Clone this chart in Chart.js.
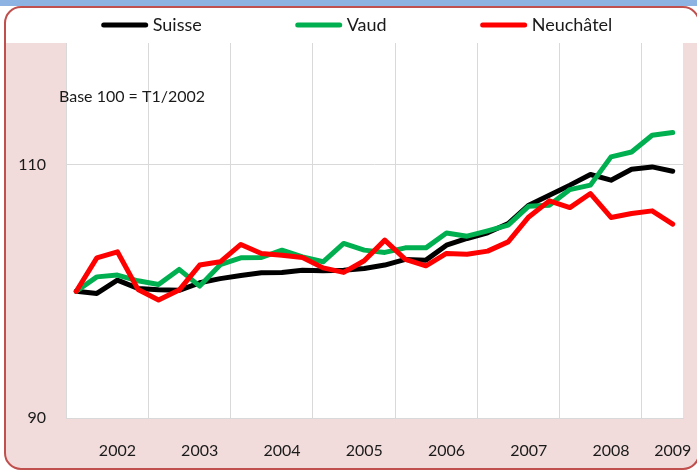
<!DOCTYPE html>
<html>
<head>
<meta charset="utf-8">
<script src="https://cdn.jsdelivr.net/npm/chart.js@4.4.1/dist/chart.umd.min.js"></script>
<style>
  html, body { margin: 0; padding: 0; background: #fff; }
  #wrap { position: relative; width: 697px; height: 470px; }
</style>
</head>
<body>
<div id="wrap"><canvas id="indexChart" width="697" height="470"></canvas></div>
<script>
// quarters T1/2002 .. T2/2009
const quarters = [
  'T1/2002', 'T2/2002', 'T3/2002', 'T4/2002',
  'T1/2003', 'T2/2003', 'T3/2003', 'T4/2003',
  'T1/2004', 'T2/2004', 'T3/2004', 'T4/2004',
  'T1/2005', 'T2/2005', 'T3/2005', 'T4/2005',
  'T1/2006', 'T2/2006', 'T3/2006', 'T4/2006',
  'T1/2007', 'T2/2007', 'T3/2007', 'T4/2007',
  'T1/2008', 'T2/2008', 'T3/2008', 'T4/2008',
  'T1/2009', 'T2/2009'
];

const suisse = [
  100, 99.83, 100.88, 100.23, 100.12, 100.08, 100.67, 101.0,
  101.25, 101.46, 101.49, 101.67, 101.62, 101.67, 101.8, 102.07,
  102.52, 102.46, 103.64, 104.17, 104.62, 105.35, 106.8, 107.59,
  108.38, 109.22, 108.77, 109.64, 109.82, 109.48
];
const vaud = [
  100, 101.14, 101.28, 100.83, 100.54, 101.73, 100.41, 102.1,
  102.64, 102.67, 103.25, 102.72, 102.33, 103.78, 103.25, 103.07,
  103.43, 103.43, 104.6, 104.35, 104.77, 105.22, 106.72, 106.8,
  108.03, 108.38, 110.61, 111.0, 112.32, 112.53
];
const neuchatel = [
  100, 102.64, 103.12, 100.15, 99.31, 100.1, 102.07, 102.33,
  103.7, 102.99, 102.85, 102.67, 101.85, 101.49, 102.41, 104.04,
  102.52, 102.01, 102.99, 102.93, 103.17, 103.9, 105.87, 107.14,
  106.61, 107.72, 105.83, 106.14, 106.35, 105.3
];

// year labels shown under the x axis (by category index)
const yearTicks = {2: '2002', 6: '2003', 10: '2004', 14: '2005', 18: '2006', 22: '2007', 26: '2008', 29: '2009'};
const yTicks = [90, 110];
const noteText = 'Base 100 = T1/2002';

const FONT = 'Lato';
const PINK = '#f2dcdb';
const GRID = '#d9d9d9';

function roundRect(ctx, x, y, w, h, r) {
  ctx.beginPath();
  ctx.moveTo(x + r, y);
  ctx.lineTo(x + w - r, y);
  ctx.arcTo(x + w, y, x + w, y + r, r);
  ctx.lineTo(x + w, y + h - r);
  ctx.arcTo(x + w, y + h, x + w - r, y + h, r);
  ctx.lineTo(x + r, y + h);
  ctx.arcTo(x, y + h, x, y + h - r, r);
  ctx.lineTo(x, y + r);
  ctx.arcTo(x, y, x + r, y, r);
  ctx.closePath();
}

// card background, white top band and white plot area
const background = {
  id: 'background',
  beforeDraw(chart) {
    const { ctx, chartArea } = chart;
    ctx.save();
    ctx.fillStyle = '#fff';
    ctx.fillRect(0, 0, chart.width, chart.height);
    ctx.fillStyle = '#8db3e2';
    ctx.fillRect(0, 0, chart.width, 6);

    roundRect(ctx, 5, 7, 694, 462, 16);
    ctx.save();
    ctx.clip();
    ctx.fillStyle = PINK;
    ctx.fillRect(0, 0, chart.width, chart.height);
    ctx.fillStyle = '#fff';
    ctx.fillRect(0, 7, chart.width, chartArea.top - 7);
    ctx.fillRect(chartArea.left, chartArea.top, chartArea.right - chartArea.left, chartArea.bottom - chartArea.top);
    ctx.restore();

    roundRect(ctx, 5, 7, 694, 462, 16);
    ctx.strokeStyle = '#c0504d';
    ctx.lineWidth = 2;
    ctx.stroke();
    ctx.restore();
  }
};

// legend on top + the "Base 100" note
const legendAndNote = {
  id: 'legendAndNote',
  afterDraw(chart) {
    const { ctx } = chart;
    ctx.save();
    ctx.font = `18px ${FONT}`;
    ctx.textBaseline = 'middle';
    const lineLen = 46, gap = 5, spacing = 94, cy = 25;
    const sets = chart.data.datasets;
    let total = 0;
    sets.forEach((ds, i) => {
      total += lineLen + gap + ctx.measureText(ds.label).width;
      if (i < sets.length - 1) total += spacing;
    });
    let x = 357 - total / 2;
    sets.forEach(ds => {
      ctx.strokeStyle = ds.borderColor;
      ctx.lineWidth = 5;
      ctx.lineCap = 'round';
      ctx.beginPath();
      ctx.moveTo(x + 2, cy);
      ctx.lineTo(x + lineLen - 2, cy);
      ctx.stroke();
      x += lineLen + gap;
      ctx.fillStyle = '#1a1a1a';
      ctx.fillText(ds.label, x, cy);
      x += ctx.measureText(ds.label).width + spacing;
    });

    ctx.font = `16px ${FONT}`;
    ctx.fillText(noteText, 59, 97);
    ctx.restore();
  }
};

function lineSet(label, data, color, order) {
  return {
    label: label,
    data: data,
    borderColor: color,
    backgroundColor: color,
    borderWidth: 5,
    borderJoinStyle: 'round',
    borderCapStyle: 'round',
    pointRadius: 0,
    tension: 0,
    order: order
  };
}

new Chart(document.getElementById('indexChart'), {
  type: 'line',
  data: {
    labels: quarters,
    datasets: [
      lineSet('Suisse', suisse, '#000000', 2),
      lineSet('Vaud', vaud, '#00b050', 1),
      lineSet('Neuchâtel', neuchatel, '#ff0000', 0)
    ]
  },
  options: {
    responsive: false,
    animation: false,
    layout: {
      padding: { top: 43, right: 14, bottom: 0, left: 0 }
    },
    plugins: {
      legend: { display: false },
      tooltip: { enabled: false }
    },
    scales: {
      x: {
        offset: true,
        afterFit: (scale) => {
          scale.height = 52;
          scale.paddingLeft = 0;
          scale.paddingRight = 0;
        },
        grid: {
          offset: true,
          drawTicks: false,
          color: (ctx) => (ctx.index !== undefined && ctx.index % 4 === 0) ? GRID : 'rgba(0,0,0,0)'
        },
        border: { display: true, color: GRID },
        ticks: {
          autoSkip: false,
          maxRotation: 0,
          minRotation: 0,
          padding: 23,
          color: '#1a1a1a',
          font: { family: FONT, size: 16 },
          callback: (val, i) => yearTicks[i] || ''
        }
      },
      y: {
        min: 90,
        max: 119.6,
        afterFit: (scale) => {
          scale.width = 66;
          scale.paddingTop = 0;
          scale.paddingBottom = 0;
        },
        afterBuildTicks: (scale) => { scale.ticks = yTicks.map(v => ({ value: v })); },
        grid: { drawTicks: false, color: GRID },
        border: { display: false },
        ticks: {
          padding: 20,
          color: '#1a1a1a',
          font: { family: FONT, size: 16 }
        }
      }
    }
  },
  plugins: [background, legendAndNote]
});
</script>
</body>
</html>
